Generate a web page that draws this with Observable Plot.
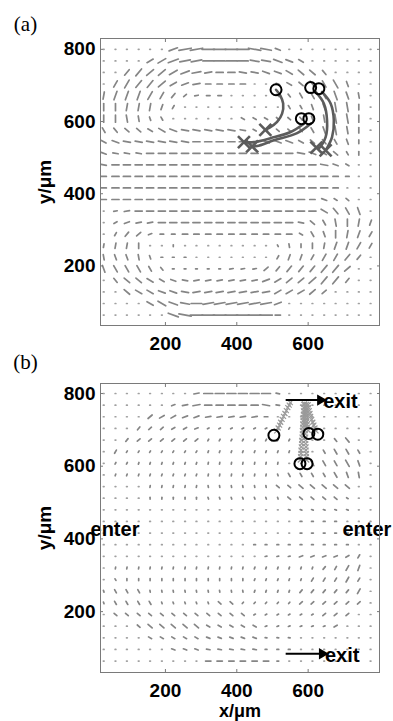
<!DOCTYPE html>
<html><head><meta charset="utf-8">
<script src="https://cdn.jsdelivr.net/npm/d3@7"></script>
<script src="https://cdn.jsdelivr.net/npm/@observablehq/plot@0.6"></script>
<style>
body{margin:0;background:#fff;}
#chart{width:393px;}
#chart svg{display:block;}
</style></head><body><div id="chart"></div>
<script>
// ---- grid of the velocity field (µm) ----
const gridX = [27,60,92,125,157,190,222,255,287,320,352,385,417,450,482,515,547,580,612,645,677,710,742,775];
const gridY = [800,768,736,704,672,640,608,576,544,512,480,448,416,384,352,320,288,256,224,192,160,128,96,64];
// angle codes: A=-80° ... I=0° ... R=90° ; length codes: digit × 5 µm (0 = dot)
const fieldA_angle = [
"IIIIIIKJJIIIIHHGIIIIIIII","IIIILLKJJIIIIHHGGFIIIIII","IINNMMLKJJIIHHGGFEEDIIII","IOONNMLKJIIIIIIGFEDCCBII",
"QPPPOONMJIIIIIIEDCCCBBAI","RRQQQPOIIIIIIIIICCBBAARI","RRAABCIIIIIIFFFEEDBAAARI","CDEEFFGHHHHHHFFEEDCBAARI",
"FGHHHHHHIIIIIIGGGFEDCBRI","GHHHIIIIIIIIIIIIIHGFECRI","HIIIIIIIIIIIIIIIIIIHGFII","IIIIIIIIIIIIIIIIIIIIIIII",
"IIIIIIIIIIIIIIIIIIIIIIII","IIIIIIIIIIIIIIIIIIIGFEII","IJJIIIIIIIIIIIIIIIIFDCBI","ILKJJIIIIIIIIIIIIHECARQP",
"IONMKIIIIIIIIIIIIFCBRQPO","QQQRIIRIIIIIIIICARRQPPOO","ABBABIIIIIIIIIIOPPOOONNI","BCCCCDIIIIIJJJMNNNNNNMII",
"IDEEFFGHJJJJJJKLMMMNNNII","IIEFFGGHJJJJJJJLLLMMIIII","IIIIFFGHIJJJJJJKIIIIIIII","IIIIIIGHIIIIIIIIIIIIIIII"];
const fieldA_len = [
"000000577777776300000000","000045666666655543000000","004555555444444444430000","045555444333300233445300",
"455554322220000223445430","444443200000000022345530","444322000000222222345540","333334444444322222345430",
"344444444444444443333320","333344444444444444433220","344444444444444444443200","344444444444444444443200",
"344444444444444444443000","344444444444444444332200","023444444444444444444440","023334444444444443334443",
"023322233333333332334443","233300100000000122334443","333321110000000233344430","444432111112223344455400",
"034443333333334444555300","004444444444444444430000","000045556666666400000000","000000677777777300000000"];
const fieldB_angle = [
"IIIIIIIIJIIIIIIHIIIIIIII","IIIIIIKJJIIIIIHHIIIIIIII","IIIIMLLKKJJJJJIIIIIIIIII","IIINMMLLKLLLLLLOOIIIIIII",
"IINMMMMMMOOOOOOOOIIIDDII","IOOOOOOOOPPPPPPPPIICCCCI","IOOPPPPPPQQQQQQQIICCCCBI","IPPPPPPPPQQQQQQBCCCCCBAI",
"IIIIQQQQQAAAAAAEEEEEEEII","IIIIRRRRRBBBBBBBEEEEEFII","IIIIIIIIIIIIIIIIGGGGGGII","IIIIIIIIIIIIIIIIIIIIIIII",
"IIIIIIIIIIIIIIIIIIIIIIII","IIIIIIIIIIIIIIIIIIIIIIII","IIIIIIIIIIIIIIJJJKKKKLOI","IQQQQQQQQQQQQPPPPPPNOOPI",
"ICRRRRRRRRRRRPPPPPOOOOOI","BCCCAAAAAAAAAPPPPNNNNNOI","BCCCCBBBBBEENNNNNMMMMMMI","IEEEEEEEEEEEELLLLLLMMMII",
"IIIEEEEEEFFFFFKKKKKKLIII","IIIIFFFFFGGGGGHHHIIIIIII","IIIIIIGGGHHHHHIIIIIIIIII","IIIIIIIIIIIIIIIIIIIIIIII"];
const fieldB_len = [
"000000003555555200000000","000000234444444200000000","000033333333332000000000","000222222111111110000000",
"002222222111111110002300","021111111111111110023320","011111111111111100333430","011111111111111122223330",
"000011111111111223333300","000011111111111122222100","000000000000000011111100","000000000000000001111000",
"000000000000000001111100","000000000000011111111100","000000000000001112222220","011111111111111111122330",
"011111111111111111222320","122211111111111112222230","122221111122111112222220","022222222222211111122200",
"000233333222221111112000","000022222222221110000000","000000222222221110000000","000000000333333100000000"];

// ---- ticks ----
const xTicks = [200,400,600];
const yTicks = [200,400,600,800];

// ---- panel (a) trajectories (start circle -> path -> end cross) ----
const circlesA = [[510,688],[607,694],[630,691],[581,608],[602,608]];
const crossesA = [[480,577],[623,528],[649,520],[420,543],[443,531]];
const pathA1 = [[510,688],[522,672],[530,650],[527,622],[513,599],[492,583],[480,577]];
const pathA2 = [[621,682],[644,650],[653,603],[649,557],[630,526],[623,528]];
const pathA3 = [[639,682],[663,650],[672,603],[667,557],[649,520]];
const pathA4 = [[588,594],[551,571],[495,554],[448,543],[420,543]];
const pathA5 = [[607,594],[569,568],[504,548],[457,532],[443,531]];

// ---- panel (b) trajectories (marker chains) ----
const circlesB = [[504,685],[602,690],[627,688],[577,607],[597,607]];
const chainB1 = [[512,697],[516,705],[520,713],[523,721],[527,729],[531,737],[535,745],[539,753],[543,761],[547,768],[550,775]];
const chainB2 = [[600,699],[598,707],[597,715],[596,723],[595,731],[594,739],[593,747],[592,755],[591,763],[590,771]];
const chainB3 = [[622,697],[619,705],[616,713],[613,721],[610,729],[607,737],[605,745],[603,753],[601,761],[600,769]];
const chainB4 = [[578,617],[579,626],[580,635],[580,644],[581,653],[582,662],[582,671],[583,680],[584,689],[584,698],[585,707],[585,716],[586,725],[586,734],[587,743],[587,752],[588,761],[588,770]];
const chainB5 = [[596,617],[595,626],[595,635],[594,644],[594,653],[593,662],[593,671],[593,680],[592,689],[592,698],[592,707],[592,716],[592,725],[593,734],[593,743],[594,752],[594,761],[595,770]];
const exitArrows = [{x1:537,x2:640,y:782},{x1:537,x2:645,y:84}];
const notes = [{t:"exit",x:642,y:779},{t:"exit",x:647,y:79},{t:"enter",x:-10,y:426},{t:"enter",x:696,y:426}];

const SANS = "'Liberation Sans', Arial, Helvetica, sans-serif";
const SERIF = "'Liberation Serif', 'Times New Roman', serif";

function fieldSegments(angRows, lenRows) {
  const out = [];
  angRows.forEach((row, j) => {
    for (let i = 0; i < row.length; i++) {
      const deg = (row.charCodeAt(i) - 73) * 10;
      const code = +lenRows[j][i];
      const L = code === 0 ? 2 : code * 5;
      const t = deg * Math.PI / 180;
      const dx = Math.cos(t) * L / 2, dy = Math.sin(t) * L / 2;
      out.push({x1: gridX[i] - dx, y1: gridY[j] - dy, x2: gridX[i] + dx, y2: gridY[j] + dy, dot: code === 0});
    }
  });
  return out;
}

function axesMarks() {
  const tickStyle = {tickFormat: () => "", label: null, stroke: "#7a7a7a", tickSize: 3};
  return [
    Plot.frame({stroke: "#7a7a7a", strokeWidth: 1}),
    Plot.axisY(yTicks, {...tickStyle, anchor: "left", dx: 3}),
    Plot.axisY(yTicks, {...tickStyle, anchor: "right", dx: -3}),
    Plot.axisX(xTicks, {...tickStyle, anchor: "bottom", dy: -3}),
    Plot.axisX(xTicks, {...tickStyle, anchor: "top", dy: 3}),
    Plot.axisY(yTicks, {anchor: "left", tickSize: 0, tickPadding: 5, label: null, fontSize: 19, fontWeight: "bold", fill: "black"}),
    Plot.axisX(xTicks, {anchor: "bottom", tickSize: 0, tickPadding: 10.5, label: null, fontSize: 19, fontWeight: "bold", fill: "black"}),
    Plot.text(["y/\u03bcm"], {text: d => d, frameAnchor: "left", dx: -56, rotate: -90, textAnchor: "middle", lineAnchor: "middle", fontSize: 19, fontWeight: "bold", fill: "black"})
  ];
}

const px = d => d[0], py = d => d[1];

const plotA = Plot.plot({
  width: 393, height: 352, marginLeft: 100, marginRight: 14, marginTop: 38, marginBottom: 27,
  x: {domain: [18, 800], label: null},
  y: {domain: [35, 830], label: null},
  style: {fontFamily: SANS, fontSize: "19px", background: "white", color: "black", overflow: "visible"},
  marks: [
    Plot.link(fieldSegments(fieldA_angle, fieldA_len), {x1: "x1", y1: "y1", x2: "x2", y2: "y2", stroke: d => d.dot ? "#a0a0a0" : "#858585", strokeWidth: 1.7, strokeLinecap: "round"}),
    ...[pathA1, pathA2, pathA3, pathA4, pathA5].map(p => Plot.line(p, {x: px, y: py, stroke: "#5c5c5c", strokeWidth: 2.6, curve: "catmull-rom"})),
    Plot.dot(crossesA, {x: px, y: py, symbol: "times", r: 5.5, stroke: "#5c5c5c", strokeWidth: 2.6}),
    Plot.dot(circlesA, {x: px, y: py, r: 5.5, stroke: "black", strokeWidth: 2, fill: "none"}),
    ...axesMarks(),
    Plot.text(["(a)"], {text: d => d, frameAnchor: "top-left", dx: -75, dy: -14, textAnchor: "middle", lineAnchor: "middle", fontFamily: SERIF, fontSize: 21, fill: "black"})
  ]
});

const plotB = Plot.plot({
  width: 393, height: 369, marginLeft: 100, marginRight: 14, marginTop: 31, marginBottom: 49,
  x: {domain: [18, 800], label: null},
  y: {domain: [32.5, 827.5], label: null},
  style: {fontFamily: SANS, fontSize: "19px", background: "white", color: "black", overflow: "visible"},
  marks: [
    Plot.link(fieldSegments(fieldB_angle, fieldB_len), {x1: "x1", y1: "y1", x2: "x2", y2: "y2", stroke: d => d.dot ? "#a0a0a0" : "#858585", strokeWidth: 1.7, strokeLinecap: "round"}),
    ...[chainB1, chainB2, chainB3, chainB4, chainB5].map(c => Plot.dot(c, {x: px, y: py, symbol: "times", r: 2.4, stroke: "#9a9a9a", strokeWidth: 1.2})),
    Plot.dot(circlesB, {x: px, y: py, r: 5.5, stroke: "black", strokeWidth: 2, fill: "none"}),
    Plot.link(exitArrows, {x1: "x1", x2: "x2", y1: "y", y2: "y", stroke: "black", strokeWidth: 2}),
    Plot.dot(exitArrows, {x: "x2", y: "y", symbol: "triangle", rotate: 90, r: 4.2, dx: -2, fill: "black", stroke: "none"}),
    Plot.text(notes, {x: "x", y: "y", text: "t", textAnchor: "start", lineAnchor: "middle", fontSize: 20, fontWeight: "bold", fill: "black"}),
    ...axesMarks(),
    Plot.text(["x/\u03bcm"], {text: d => d, frameAnchor: "bottom", dy: 38.7, textAnchor: "middle", lineAnchor: "middle", fontSize: 18, fontWeight: "bold", fill: "black"}),
    Plot.text(["(b)"], {text: d => d, frameAnchor: "top-left", dx: -75, dy: -21, textAnchor: "middle", lineAnchor: "middle", fontFamily: SERIF, fontSize: 21, fill: "black"})
  ]
});

const root = document.getElementById("chart");
root.append(plotA, plotB);
</script>
</body></html>
